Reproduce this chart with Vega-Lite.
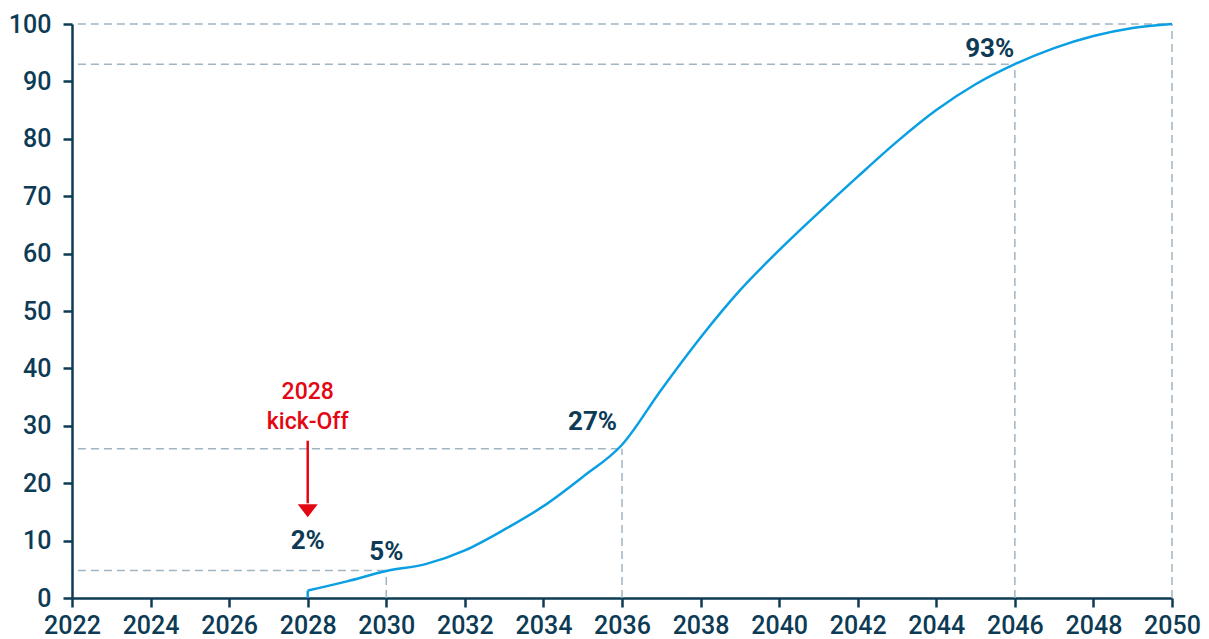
{
  "$schema": "https://vega.github.io/schema/vega-lite/v6.json",
  "width": 1100,
  "height": 574,
  "autosize": "none",
  "padding": {"left": 72, "top": 24, "right": 37, "bottom": 41},
  "background": "white",
  "config": {
    "view": {"stroke": null},
    "font": "Roboto",
    "axis": {
      "domainColor": "#0d3b55",
      "domainWidth": 2.5,
      "tickColor": "#0d3b55",
      "tickWidth": 2.5,
      "tickSize": 9,
      "labelColor": "#0d3b55",
      "labelFont": "Roboto",
      "labelFontSize": 25,
      "labelFontWeight": 500,
      "labelOverlap": false,
      "labelBound": false,
      "labelFlush": false,
      "grid": false,
      "title": null
    }
  },
  "datasets": {
    "curve": [
      {"year": 2028, "value": 1.3},
      {"year": 2029, "value": 2.9},
      {"year": 2030, "value": 4.7},
      {"year": 2031, "value": 5.9},
      {"year": 2032, "value": 8.3},
      {"year": 2033, "value": 11.9},
      {"year": 2034, "value": 16.0},
      {"year": 2035, "value": 21.1},
      {"year": 2036, "value": 26.7},
      {"year": 2037, "value": 36.3},
      {"year": 2038, "value": 45.4},
      {"year": 2039, "value": 53.6},
      {"year": 2040, "value": 60.6},
      {"year": 2041, "value": 67.1},
      {"year": 2042, "value": 73.4},
      {"year": 2043, "value": 79.5},
      {"year": 2044, "value": 85.0},
      {"year": 2045, "value": 89.5},
      {"year": 2046, "value": 93.0},
      {"year": 2047, "value": 95.8},
      {"year": 2048, "value": 97.9},
      {"year": 2049, "value": 99.3},
      {"year": 2050, "value": 100}
    ],
    "guides": [
      {"x": 2022.15, "x2": 2030, "y": 4.8, "y2": 4.8},
      {"x": 2022.15, "x2": 2036, "y": 26, "y2": 26},
      {"x": 2022.15, "x2": 2046, "y": 93, "y2": 93},
      {"x": 2022.15, "x2": 2050, "y": 100, "y2": 100},
      {"x": 2030, "x2": 2030, "y": 0, "y2": 4.8},
      {"x": 2036, "x2": 2036, "y": 0, "y2": 26},
      {"x": 2046, "x2": 2046, "y": 0, "y2": 93},
      {"x": 2050, "x2": 2050, "y": 0, "y2": 100}
    ],
    "pct": [
      {"year": 2028, "value": 8.6, "label": "2%"},
      {"year": 2030, "value": 6.7, "label": "5%"},
      {"year": 2035.25, "value": 29.2, "label": "27%"},
      {"year": 2045.36, "value": 94.2, "label": "93%"}
    ],
    "kick": [
      {"year": 2028, "value": 34.75, "label": "2028"},
      {"year": 2028, "value": 29.4, "label": "kick-Off"}
    ]
  },
  "layer": [
    {
      "data": {"name": "guides"},
      "mark": {"type": "rule", "color": "#9fb5c4", "strokeWidth": 1.5, "strokeDash": [8, 5]},
      "encoding": {
        "x": {"field": "x", "type": "quantitative", "scale": {"domain": [2022, 2050], "nice": false, "zero": false},
          "axis": {"values": [2022, 2024, 2026, 2028, 2030, 2032, 2034, 2036, 2038, 2040, 2042, 2044, 2046, 2048, 2050], "format": "d", "labelPadding": 6}},
        "x2": {"field": "x2"},
        "y": {"field": "y", "type": "quantitative", "scale": {"domain": [0, 100], "nice": false},
          "axis": {"values": [0, 10, 20, 30, 40, 50, 60, 70, 80, 90, 100], "labelPadding": 12}},
        "y2": {"field": "y2"}
      }
    },
    {
      "data": {"values": [{"year": 2028, "lo": 0, "hi": 1.3}]},
      "mark": {"type": "rule", "color": "#0a9fe2", "strokeWidth": 2.5},
      "encoding": {
        "x": {"field": "year", "type": "quantitative"},
        "y": {"field": "lo", "type": "quantitative"},
        "y2": {"field": "hi"}
      }
    },
    {
      "data": {"name": "curve"},
      "mark": {"type": "line", "color": "#0a9fe2", "strokeWidth": 2.5, "interpolate": "monotone"},
      "encoding": {
        "x": {"field": "year", "type": "quantitative"},
        "y": {"field": "value", "type": "quantitative"}
      }
    },
    {
      "data": {"values": [{"year": 2028, "top": 27.4, "bottom": 16.5}]},
      "mark": {"type": "rule", "color": "#e30613", "strokeWidth": 2.5},
      "encoding": {
        "x": {"field": "year", "type": "quantitative"},
        "y": {"field": "top", "type": "quantitative"},
        "y2": {"field": "bottom"}
      }
    },
    {
      "data": {"values": [{"year": 2028, "value": 15.2}]},
      "mark": {"type": "point", "shape": "M -1 -0.65 L 1 -0.65 L 0 0.65 Z", "size": 400, "filled": true, "color": "#e30613", "opacity": 1, "strokeWidth": 0},
      "encoding": {
        "x": {"field": "year", "type": "quantitative"},
        "y": {"field": "value", "type": "quantitative"}
      }
    },
    {
      "data": {"name": "kick"},
      "mark": {"type": "text", "color": "#e30613", "font": "Roboto", "fontSize": 23, "fontWeight": 500, "align": "center", "baseline": "alphabetic"},
      "encoding": {
        "x": {"field": "year", "type": "quantitative"},
        "y": {"field": "value", "type": "quantitative"},
        "text": {"field": "label"}
      }
    },
    {
      "data": {"name": "pct"},
      "mark": {"type": "text", "color": "#0d3b55", "font": "Roboto", "fontSize": 26, "fontWeight": "bold", "align": "center", "baseline": "alphabetic"},
      "encoding": {
        "x": {"field": "year", "type": "quantitative"},
        "y": {"field": "value", "type": "quantitative"},
        "text": {"field": "label"}
      }
    }
  ]
}
